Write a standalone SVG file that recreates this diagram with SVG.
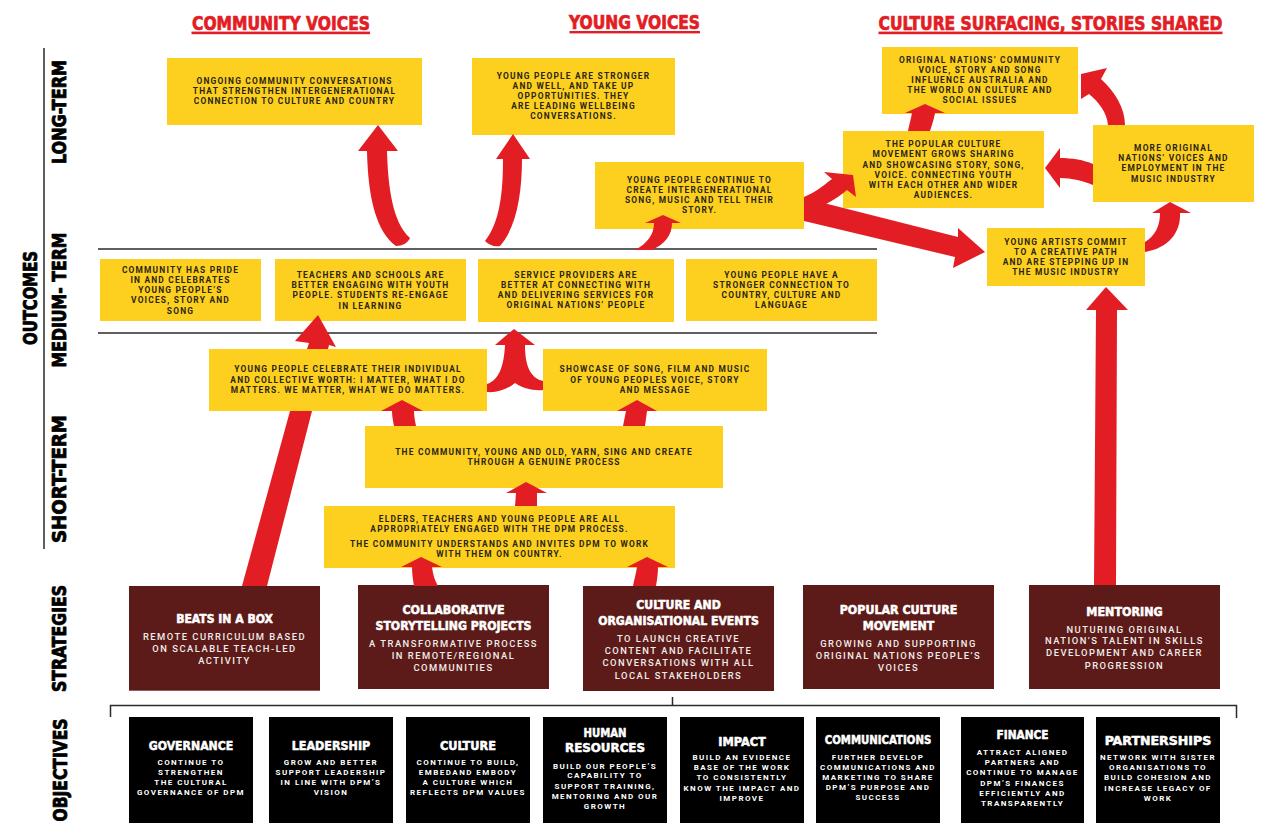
<svg xmlns="http://www.w3.org/2000/svg" width="1270" height="823" viewBox="0 0 1270 823">
<style>
.y{fill:#FDD01F}
.m{fill:#5C1B18}
.k{fill:#000}
.a{fill:#E31D24}
.ln{stroke:#2a2a2a;stroke-width:1.5;fill:none}
.t{font-family:Roboto,"Liberation Sans",sans-serif;font-weight:700;font-size:8.4px;letter-spacing:1.2px;fill:#2B2616;text-anchor:middle}
.sd{font-family:Roboto,"Liberation Sans",sans-serif;font-weight:500;font-size:9.4px;letter-spacing:1.5px;fill:#F2ECEC;text-anchor:middle}
.od{font-family:Roboto,"Liberation Sans",sans-serif;font-weight:700;font-size:8px;letter-spacing:1.45px;fill:#fff;text-anchor:middle}
.h{font-family:"DejaVu Sans Condensed","DejaVu Sans",sans-serif;font-weight:700;text-anchor:middle;stroke-width:0.7px;stroke-linejoin:round}
.hd{font-size:19px;fill:#E31D24;stroke:#E31D24}
.st{font-size:12px;fill:#fff;stroke:#fff;stroke-width:0.5px}
.ot{font-size:12.5px;fill:#fff;stroke:#fff;stroke-width:0.5px}
.ax{font-size:19px;fill:#000;stroke:#000;stroke-width:0.8px}
</style>

<g id="headings">
<text class="h hd" x="281" y="29.5" textLength="178" lengthAdjust="spacingAndGlyphs">COMMUNITY VOICES</text>
<rect class="a" x="191.5" y="31.6" width="178.5" height="2.6"/>
<text class="h hd" x="634.5" y="29" textLength="131" lengthAdjust="spacingAndGlyphs">YOUNG VOICES</text>
<rect class="a" x="569.5" y="31" width="130.5" height="2.4"/>
<text class="h hd" x="1050.5" y="29.5" textLength="344" lengthAdjust="spacingAndGlyphs">CULTURE SURFACING, STORIES SHARED</text>
<rect class="a" x="878.5" y="31.6" width="344" height="2.6"/>
</g>

<g id="axis">
<line class="ln" x1="44" y1="48" x2="44" y2="549"/>
<line class="ln" x1="98" y1="249" x2="877" y2="249"/>
<line class="ln" x1="98" y1="333" x2="877" y2="333"/>
<path class="ln" d="M110.5,717 V705.5 H1236.5 V718 M672.5,697 V705.5"/>
<text class="h ax" transform="translate(37,298) rotate(-90)" textLength="94" lengthAdjust="spacingAndGlyphs">OUTCOMES</text>
<text class="h ax" transform="translate(66,112) rotate(-90)" textLength="104" lengthAdjust="spacingAndGlyphs">LONG-TERM</text>
<text class="h ax" transform="translate(66,300) rotate(-90)" textLength="135" lengthAdjust="spacingAndGlyphs">MEDIUM- TERM</text>
<text class="h ax" transform="translate(66,479) rotate(-90)" textLength="128" lengthAdjust="spacingAndGlyphs">SHORT-TERM</text>
<text class="h ax" transform="translate(66,638.5) rotate(-90)" textLength="107" lengthAdjust="spacingAndGlyphs">STRATEGIES</text>
<text class="h ax" transform="translate(67,770) rotate(-90)" textLength="103" lengthAdjust="spacingAndGlyphs">OBJECTIVES</text>
</g>

<g id="lt-community">
<rect class="y" x="167" y="58" width="255" height="67"/>
<text class="t" x="294.5" y="84">ONGOING COMMUNITY CONVERSATIONS</text>
<text class="t" x="294.5" y="94">THAT STRENGTHEN INTERGENERATIONAL</text>
<text class="t" x="294.5" y="104">CONNECTION TO CULTURE AND COUNTRY</text>
</g>
<g id="lt-young">
<rect class="y" x="472" y="58" width="203" height="77"/>
<text class="t" x="573.5" y="79">YOUNG PEOPLE ARE STRONGER</text>
<text class="t" x="573.5" y="89">AND WELL, AND TAKE UP</text>
<text class="t" x="573.5" y="99">OPPORTUNITIES. THEY</text>
<text class="t" x="573.5" y="109">ARE LEADING WELLBEING</text>
<text class="t" x="573.5" y="119">CONVERSATIONS.</text>
</g>
<g id="lt-continue">
<rect class="y" x="595" y="162" width="209" height="67"/>
<text class="t" x="699.5" y="183">YOUNG PEOPLE CONTINUE TO</text>
<text class="t" x="699.5" y="193">CREATE INTERGENERATIONAL</text>
<text class="t" x="699.5" y="203">SONG, MUSIC AND TELL THEIR</text>
<text class="t" x="699.5" y="213">STORY.</text>
</g>
<g id="lt-influence">
<rect class="y" x="882" y="47" width="196" height="67"/>
<text class="t" x="980" y="63">ORIGINAL NATIONS’ COMMUNITY</text>
<text class="t" x="980" y="73">VOICE, STORY AND SONG</text>
<text class="t" x="980" y="83">INFLUENCE AUSTRALIA AND</text>
<text class="t" x="980" y="93">THE WORLD ON CULTURE AND</text>
<text class="t" x="980" y="103">SOCIAL ISSUES</text>
</g>
<g id="lt-popular">
<rect class="y" x="843" y="131" width="201" height="77"/>
<text class="t" x="943.5" y="147">THE POPULAR CULTURE</text>
<text class="t" x="943.5" y="157">MOVEMENT GROWS SHARING</text>
<text class="t" x="943.5" y="168">AND SHOWCASING STORY, SONG,</text>
<text class="t" x="943.5" y="178">VOICE. CONNECTING YOUTH</text>
<text class="t" x="943.5" y="188">WITH EACH OTHER AND WIDER</text>
<text class="t" x="943.5" y="198">AUDIENCES.</text>
</g>
<g id="lt-more">
<rect class="y" x="1093" y="125" width="161" height="77"/>
<text class="t" x="1173.5" y="151">MORE ORIGINAL</text>
<text class="t" x="1173.5" y="161">NATIONS’ VOICES AND</text>
<text class="t" x="1173.5" y="171">EMPLOYMENT IN THE</text>
<text class="t" x="1173.5" y="182">MUSIC INDUSTRY</text>
</g>
<g id="lt-artists">
<rect class="y" x="987" y="228" width="158" height="58"/>
<text class="t" x="1066" y="245">YOUNG ARTISTS COMMIT</text>
<text class="t" x="1066" y="255">TO A CREATIVE PATH</text>
<text class="t" x="1066" y="265">AND ARE STEPPING UP IN</text>
<text class="t" x="1066" y="275">THE MUSIC INDUSTRY</text>
</g>

<g id="mt-pride">
<rect class="y" x="100" y="259" width="161" height="62"/>
<text class="t" x="180.5" y="273">COMMUNITY HAS PRIDE</text>
<text class="t" x="180.5" y="283">IN AND CELEBRATES</text>
<text class="t" x="180.5" y="293">YOUNG PEOPLE’S</text>
<text class="t" x="180.5" y="303">VOICES, STORY AND</text>
<text class="t" x="180.5" y="314">SONG</text>
</g>
<g id="mt-teachers">
<rect class="y" x="275" y="259" width="191" height="62"/>
<text class="t" x="370.5" y="278">TEACHERS AND SCHOOLS ARE</text>
<text class="t" x="370.5" y="288">BETTER ENGAGING WITH YOUTH</text>
<text class="t" x="370.5" y="298">PEOPLE. STUDENTS RE-ENGAGE</text>
<text class="t" x="370.5" y="309">IN LEARNING</text>
</g>
<g id="mt-service">
<rect class="y" x="478" y="259" width="196" height="63"/>
<text class="t" x="576" y="278">SERVICE PROVIDERS ARE</text>
<text class="t" x="576" y="288">BETTER AT CONNECTING WITH</text>
<text class="t" x="576" y="298">AND DELIVERING SERVICES FOR</text>
<text class="t" x="576" y="308">ORIGINAL NATIONS’ PEOPLE</text>
</g>
<g id="mt-country">
<rect class="y" x="686" y="259" width="191" height="62"/>
<text class="t" x="781.5" y="278">YOUNG PEOPLE HAVE A</text>
<text class="t" x="781.5" y="288">STRONGER CONNECTION TO</text>
<text class="t" x="781.5" y="298">COUNTRY, CULTURE AND</text>
<text class="t" x="781.5" y="308">LANGUAGE</text>
</g>

<g id="st-celebrate">
<rect class="y" x="209" y="349" width="278" height="62"/>
<text class="t" x="348" y="372">YOUNG PEOPLE CELEBRATE THEIR INDIVIDUAL</text>
<text class="t" x="348" y="383">AND COLLECTIVE WORTH: I MATTER, WHAT I DO</text>
<text class="t" x="348" y="393">MATTERS. WE MATTER, WHAT WE DO MATTERS.</text>
</g>
<g id="st-showcase">
<rect class="y" x="543" y="349" width="224" height="62"/>
<text class="t" x="655" y="372">SHOWCASE OF SONG, FILM AND MUSIC</text>
<text class="t" x="655" y="383">OF YOUNG PEOPLES VOICE, STORY</text>
<text class="t" x="655" y="393">AND MESSAGE</text>
</g>
<g id="st-yarn">
<rect class="y" x="365" y="426" width="358" height="62"/>
<text class="t" x="544" y="455">THE COMMUNITY, YOUNG AND OLD, YARN, SING AND CREATE</text>
<text class="t" x="544" y="465">THROUGH A GENUINE PROCESS</text>
</g>
<g id="st-engaged">
<rect class="y" x="324" y="506" width="351" height="62"/>
<text class="t" x="499.5" y="522">ELDERS, TEACHERS AND YOUNG PEOPLE ARE ALL</text>
<text class="t" x="499.5" y="532">APPROPRIATELY ENGAGED WITH THE DPM PROCESS.</text>
<text class="t" x="499.5" y="547">THE COMMUNITY UNDERSTANDS AND INVITES DPM TO WORK</text>
<text class="t" x="499.5" y="557">WITH THEM ON COUNTRY.</text>
</g>

<g id="s-beats">
<rect class="m" x="129" y="586" width="191" height="104.7"/>
<text class="h st" x="224.5" y="622.7" textLength="96.7" lengthAdjust="spacingAndGlyphs">BEATS IN A BOX</text>
<text class="sd" x="224.5" y="640">REMOTE CURRICULUM BASED</text>
<text class="sd" x="224.5" y="652">ON SCALABLE TEACH-LED</text>
<text class="sd" x="224.5" y="664">ACTIVITY</text>
</g>
<g id="s-collab">
<rect class="m" x="358" y="585" width="191" height="104"/>
<text class="h st" x="453.5" y="614" textLength="102" lengthAdjust="spacingAndGlyphs">COLLABORATIVE</text>
<text class="h st" x="453.5" y="630" textLength="156" lengthAdjust="spacingAndGlyphs">STORYTELLING PROJECTS</text>
<text class="sd" x="453.5" y="646.7">A TRANSFORMATIVE PROCESS</text>
<text class="sd" x="453.5" y="659">IN REMOTE/REGIONAL</text>
<text class="sd" x="453.5" y="671">COMMUNITIES</text>
</g>
<g id="s-events">
<rect class="m" x="583" y="586" width="191" height="105"/>
<text class="h st" x="678.5" y="609" textLength="84.5" lengthAdjust="spacingAndGlyphs">CULTURE AND</text>
<text class="h st" x="678.5" y="625" textLength="160.6" lengthAdjust="spacingAndGlyphs">ORGANISATIONAL EVENTS</text>
<text class="sd" x="678.5" y="641.7">TO LAUNCH CREATIVE</text>
<text class="sd" x="678.5" y="654">CONTENT AND FACILITATE</text>
<text class="sd" x="678.5" y="665.7">CONVERSATIONS WITH ALL</text>
<text class="sd" x="678.5" y="678.7">LOCAL STAKEHOLDERS</text>
</g>
<g id="s-popular">
<rect class="m" x="803" y="585" width="191" height="104"/>
<text class="h st" x="898.5" y="614" textLength="117.5" lengthAdjust="spacingAndGlyphs">POPULAR CULTURE</text>
<text class="h st" x="898.5" y="630" textLength="71.4" lengthAdjust="spacingAndGlyphs">MOVEMENT</text>
<text class="sd" x="898.5" y="646.7">GROWING AND SUPPORTING</text>
<text class="sd" x="898.5" y="658.7">ORIGINAL NATIONS PEOPLE’S</text>
<text class="sd" x="898.5" y="670.7">VOICES</text>
</g>
<g id="s-mentoring">
<rect class="m" x="1029" y="585" width="191" height="104"/>
<text class="h st" x="1124.5" y="616" textLength="76.3" lengthAdjust="spacingAndGlyphs">MENTORING</text>
<text class="sd" x="1124.5" y="632.7">NUTURING ORIGINAL</text>
<text class="sd" x="1124.5" y="644.3">NATION’S TALENT IN SKILLS</text>
<text class="sd" x="1124.5" y="656.3">DEVELOPMENT AND CAREER</text>
<text class="sd" x="1124.5" y="668.7">PROGRESSION</text>
</g>

<g id="o-governance">
<rect class="k" x="129" y="717" width="124" height="106"/>
<text class="h ot" x="191" y="750" textLength="84.6" lengthAdjust="spacingAndGlyphs">GOVERNANCE</text>
<text class="od" x="191" y="764.7">CONTINUE TO</text>
<text class="od" x="191" y="775">STRENGTHEN</text>
<text class="od" x="191" y="785">THE CULTURAL</text>
<text class="od" x="191" y="795">GOVERNANCE OF DPM</text>
</g>
<g id="o-leadership">
<rect class="k" x="269" y="717" width="124" height="106"/>
<text class="h ot" x="331" y="750" textLength="78.5" lengthAdjust="spacingAndGlyphs">LEADERSHIP</text>
<text class="od" x="331" y="764.7">GROW AND BETTER</text>
<text class="od" x="331" y="775">SUPPORT LEADERSHIP</text>
<text class="od" x="331" y="785">IN LINE WITH DPM’S</text>
<text class="od" x="331" y="795">VISION</text>
</g>
<g id="o-culture">
<rect class="k" x="406" y="717" width="124" height="106"/>
<text class="h ot" x="468" y="750" textLength="56" lengthAdjust="spacingAndGlyphs">CULTURE</text>
<text class="od" x="468" y="764.7">CONTINUE TO BUILD,</text>
<text class="od" x="468" y="775">EMBEDAND EMBODY</text>
<text class="od" x="468" y="785">A CULTURE WHICH</text>
<text class="od" x="468" y="795">REFLECTS DPM VALUES</text>
</g>
<g id="o-hr">
<rect class="k" x="543" y="717" width="124" height="106"/>
<text class="h ot" x="605" y="736.7" textLength="43" lengthAdjust="spacingAndGlyphs">HUMAN</text>
<text class="h ot" x="605" y="752.3" textLength="80" lengthAdjust="spacingAndGlyphs">RESOURCES</text>
<text class="od" x="605" y="768.7">BUILD OUR PEOPLE’S</text>
<text class="od" x="605" y="778.3">CAPABILITY TO</text>
<text class="od" x="605" y="788.7">SUPPORT TRAINING,</text>
<text class="od" x="605" y="798.7">MENTORING AND OUR</text>
<text class="od" x="605" y="809">GROWTH</text>
</g>
<g id="o-impact">
<rect class="k" x="680" y="717" width="124" height="106"/>
<text class="h ot" x="742" y="745.7" textLength="47.6" lengthAdjust="spacingAndGlyphs">IMPACT</text>
<text class="od" x="742" y="760.3">BUILD AN EVIDENCE</text>
<text class="od" x="742" y="770.3">BASE OF THE WORK</text>
<text class="od" x="742" y="780.3">TO CONSISTENTLY</text>
<text class="od" x="742" y="790.7">KNOW THE IMPACT AND</text>
<text class="od" x="742" y="800.7">IMPROVE</text>
</g>
<g id="o-comms">
<rect class="k" x="816" y="717" width="124" height="106"/>
<text class="h ot" x="878" y="744.3" textLength="106.6" lengthAdjust="spacingAndGlyphs">COMMUNICATIONS</text>
<text class="od" x="878" y="759.7">FURTHER DEVELOP</text>
<text class="od" x="878" y="769.7">COMMUNICATIONS AND</text>
<text class="od" x="878" y="780">MARKETING TO SHARE</text>
<text class="od" x="878" y="790.3">DPM’S PURPOSE AND</text>
<text class="od" x="878" y="800">SUCCESS</text>
</g>
<g id="o-finance">
<rect class="k" x="961" y="717" width="123" height="106"/>
<text class="h ot" x="1022.5" y="739.3" textLength="52" lengthAdjust="spacingAndGlyphs">FINANCE</text>
<text class="od" x="1022.5" y="755.3">ATTRACT ALIGNED</text>
<text class="od" x="1022.5" y="765.3">PARTNERS AND</text>
<text class="od" x="1022.5" y="775.3">CONTINUE TO MANAGE</text>
<text class="od" x="1022.5" y="786.3">DPM’S FINANCES</text>
<text class="od" x="1022.5" y="795.7">EFFICIENTLY AND</text>
<text class="od" x="1022.5" y="806.3">TRANSPARENTLY</text>
</g>
<g id="o-partnerships">
<rect class="k" x="1096" y="717" width="124" height="106"/>
<text class="h ot" x="1158" y="745" textLength="106.6" lengthAdjust="spacingAndGlyphs">PARTNERSHIPS</text>
<text class="od" x="1158" y="760.3">NETWORK WITH SISTER</text>
<text class="od" x="1158" y="770.3">ORGANISATIONS TO</text>
<text class="od" x="1158" y="780.3">BUILD COHESION AND</text>
<text class="od" x="1158" y="790.7">INCREASE LEGACY OF</text>
<text class="od" x="1158" y="800.7">WORK</text>
</g>

<g id="connectors">
<path class="a" d="M378,125 L398,151 L387,151 C388,185 392,222 410,238 C408,243 402,246 396,246 C377,232 368,200 367,151 L358,151 Z"/>
<path class="a" d="M513,134 L530,159 L522,159 C522,195 516,228 500,246 C494,247 489,245 485,241 C500,222 503,192 503,159 L496,159 Z"/>
<path class="a" d="M663,215 L681,223 L672,223 C672,235 665,244 652,250 L635,250 C648,243 654,234 654,223 L645,223 Z"/>
<path class="a" d="M804,198 L958,237 L958,228 L985,252 L953,268 L955,257 L804,221 Z"/>
<path class="a" d="M853,175 L856,197 L847,190 C835,200 820,208 804,214 L804,197 C814,193 823,186 832,179 L824,172 Z"/>
<path class="a" d="M925,104 L945,113 L935,113 C934,119 932,125 930,131 L908,131 C909,125 911,119 912,113 L905,113 Z"/>
<path class="a" d="M1081,74 L1107,68 L1101,79 C1115,92 1125,108 1125,125 L1108,125 C1107,113 1099,102 1089,94 L1081,99 Z"/>
<path class="a" d="M1045,168 L1060,148 L1060,158 C1072,158 1084,160 1093,164 L1093,185 C1083,181 1072,178 1060,178 L1060,188 Z"/>
<path class="a" d="M1170,202 L1191,213 L1180,213 C1181,233 1168,248 1145,252 L1145,242 C1155,236 1160,226 1160,213 L1152,213 Z"/>
<path class="a" d="M1106,287 L1128,310 L1117,310 L1116,585 L1094,585 L1096,310 L1086,310 Z"/>
<path class="a" d="M242,586 L267,586 L312,411 L290,411 Z M307,349 L309,343 L295,341 L318,315 L336,347 L329,345 L328,349 Z"/>
<path class="a" d="M402,400 L423,411 L414,411 C414,416 415,421 416,426 L394,426 C393,421 392,416 392,411 L381,411 Z"/>
<path class="a" d="M637,400 L657,411 L647,411 L645,426 L623,426 L626,411 L617,411 Z"/>
<path class="a" d="M514,329 L535,345 L525,345 C525,365 530,378 543,381 L543,390 C533,391 522,388 515,383 C508,389 497,393 487,392 L487,384 C499,380 504,366 505,345 L495,345 Z"/>
<path class="a" d="M526,482 L547,493 L537,493 L537,506 L515,506 L516,493 L506,493 Z"/>
<path class="a" d="M421,557 L442,567 L432,567 C433,575 435,581 438,586 L414,586 C413,580 412,574 412,567 L401,567 Z"/>
<path class="a" d="M647,557 L668,567 L658,567 C658,574 657,580 656,586 L633,586 C634,580 636,574 637,567 L627,567 Z"/>
</g>
</svg>
